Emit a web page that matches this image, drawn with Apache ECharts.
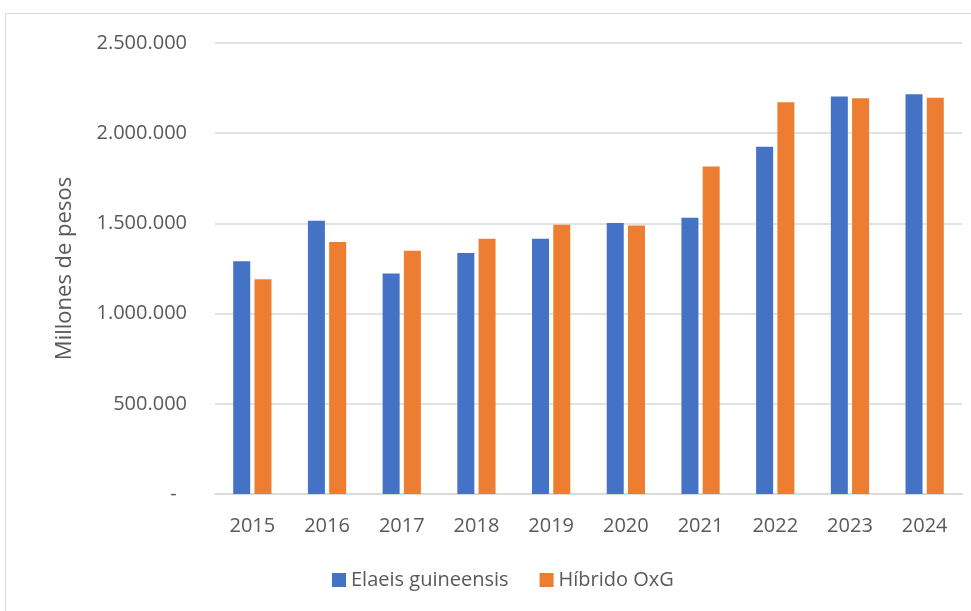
<!DOCTYPE html>
<html>
<head>
<meta charset="utf-8">
<script src="https://cdn.jsdelivr.net/npm/echarts@6/dist/echarts.min.js"></script>
<style>
  html, body { margin: 0; padding: 0; background: #fff; }
  #chart { width: 971px; height: 611px; }
</style>
</head>
<body>
<div id="chart"></div>
<script>
const years = ["2015", "2016", "2017", "2018", "2019", "2020", "2021", "2022", "2023", "2024"];
const elaeis = [1290000, 1515000, 1222000, 1336000, 1415000, 1502000, 1531000, 1925000, 2203000, 2216000];
const hibrido = [1190000, 1397000, 1349000, 1415000, 1493000, 1489000, 1816000, 2172000, 2194000, 2196000];
const yTicks = [0, 500000, 1000000, 1500000, 2000000, 2500000];

const textColor = "#595959";
const fontFamily = "'Open Sans', sans-serif";

// formato contable: miles con punto, cero como guion
function fmt(v) {
  if (v === 0) return "-  ";
  return String(v).replace(/\B(?=(\d{3})+(?!\d))/g, ".");
}

const chart = echarts.init(document.getElementById("chart"));

chart.setOption({
  animation: false,
  textStyle: { fontFamily: fontFamily, color: textColor },
  graphic: [
    {
      type: "rect",
      shape: { x: 5.5, y: 13.5, width: 1000, height: 700 },
      style: { fill: "none", stroke: "#d9d9d9", lineWidth: 1 },
      silent: true,
    },
  ],
  grid: {
    left: 215,
    right: 9,
    top: 43,
    bottom: 117,
  },
  legend: {
    top: 565,
    left: 327,
    itemWidth: 14,
    itemHeight: 14,
    itemGap: 31,
    icon: "rect",
    textStyle: { fontSize: 20, color: textColor, fontFamily: fontFamily },
    data: ["Elaeis guineensis", "Híbrido OxG"],
  },
  xAxis: {
    type: "category",
    data: years,
    axisLine: { lineStyle: { color: "#d9d9d9", width: 1.5 } },
    axisTick: { show: false },
    axisLabel: { fontSize: 20, color: textColor, margin: 22 },
  },
  yAxis: {
    type: "value",
    min: yTicks[0],
    max: yTicks[yTicks.length - 1],
    interval: 500000,
    name: "Millones de pesos",
    nameLocation: "middle",
    nameGap: 139,
    nameTextStyle: { fontSize: 22, color: textColor },
    axisLine: { show: false },
    axisTick: { show: false },
    splitLine: { lineStyle: { color: "#d9d9d9", width: 1.5 } },
    axisLabel: { fontSize: 20, color: textColor, margin: 28, formatter: fmt },
  },
  series: [
    {
      name: "Elaeis guineensis",
      type: "bar",
      data: elaeis,
      barWidth: 17,
      barGap: "25%",
      itemStyle: { color: "#4472C4" },
    },
    {
      name: "Híbrido OxG",
      type: "bar",
      data: hibrido,
      barWidth: 17,
      itemStyle: { color: "#ED7D31" },
    },
  ],
});
</script>
</body>
</html>
